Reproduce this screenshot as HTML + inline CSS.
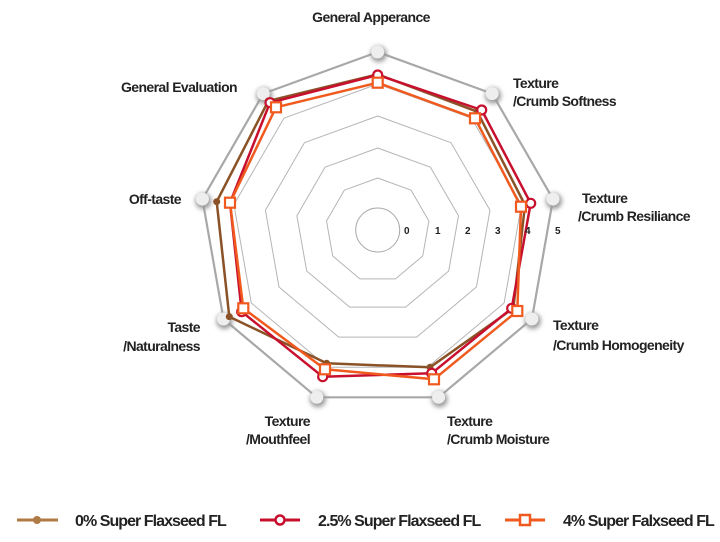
<!DOCTYPE html>
<html><head><meta charset="utf-8"><style>
body{margin:0;background:#fff;width:720px;height:542px;overflow:hidden}
svg{display:block}
text{font-family:"Liberation Sans",sans-serif;font-weight:bold;fill:#222}
.l{font-size:14px;letter-spacing:-0.6px}
.g{font-size:16px;letter-spacing:-0.95px}
.n{font-size:10px}
</style></head><body>
<svg id="s" width="720" height="542" viewBox="0 0 720 542">
<defs><filter id="sh" x="-1" y="-1" width="3" height="3"><feGaussianBlur stdDeviation="2.5"/></filter></defs>
<g id="rings"></g>
<g id="series"></g>
<text class="n" x="404" y="234">0</text><text class="n" x="435" y="234">1</text><text class="n" x="465" y="234">2</text><text class="n" x="495" y="234">3</text><text class="n" x="525" y="234">4</text><text class="n" x="555" y="234">5</text>
<text class="l" x="371" y="22" text-anchor="middle">General Apperance</text>
<text class="l" x="513" y="88">Texture</text><text class="l" x="513" y="106">/Crumb Softness</text>
<text class="l" x="582" y="203">Texture</text><text class="l" x="578" y="221">/Crumb Resiliance</text>
<text class="l" x="553" y="330">Texture</text><text class="l" x="553" y="350">/Crumb Homogeneity</text>
<text class="l" x="447" y="426">Texture</text><text class="l" x="447" y="444">/Crumb Moisture</text>
<text class="l" x="310" y="426" text-anchor="end">Texture</text><text class="l" x="310" y="444" text-anchor="end">/Mouthfeel</text>
<text class="l" x="200" y="332" text-anchor="end">Taste</text><text class="l" x="200" y="351" text-anchor="end">/Naturalness</text>
<text class="l" x="181" y="204" text-anchor="end">Off-taste</text>
<text class="l" x="237" y="92" text-anchor="end">General Evaluation</text>
<line x1="17" y1="520" x2="58" y2="520" stroke="#b07a45" stroke-width="3"/><circle cx="37" cy="520" r="4" fill="#b07a45"/>
<text class="g" x="75" y="526">0% Super Flaxseed FL</text>
<line x1="260" y1="520" x2="300" y2="520" stroke="#c8102e" stroke-width="3"/><circle cx="280" cy="520" r="4.5" fill="#fff" stroke="#c8102e" stroke-width="2.5"/>
<text class="g" x="318" y="526">2.5% Super Flaxseed FL</text>
<line x1="505" y1="520" x2="545" y2="520" stroke="#f05a1e" stroke-width="3"/><rect x="520" y="515" width="10" height="10" fill="#fff" stroke="#f05a1e" stroke-width="2.5"/>
<text class="g" x="563" y="526">4% Super Falxseed FL</text>
</svg>
<script>
var NS="http://www.w3.org/2000/svg",cx=377.7,cy=230;
function el(t,a,p){var e=document.createElementNS(NS,t);for(var k in a)e.setAttribute(k,a[k]);p.appendChild(e);return e;}
var R=document.getElementById("rings"),S=document.getElementById("series");
el("circle",{cx:cx,cy:cy,r:22,fill:"none",stroke:"#aaa","stroke-width":1},R);
[52,82,114,146,178].forEach(function(r,i){var pts=[];for(var k=0;k<9;k++){var a=(-90+40*k)*Math.PI/180;pts.push((cx+r*Math.cos(a)).toFixed(1)+","+(cy+r*Math.sin(a)).toFixed(1));}
el("polygon",{points:pts.join(" "),fill:"none",stroke:i==4?"#a8a8a8":"#b5b5b5","stroke-width":i==4?2.2:1,"stroke-linejoin":"round"},R);
if(i==4){for(var k=0;k<9;k++){var a=(-90+40*k)*Math.PI/180,x=cx+r*Math.cos(a),y=cy+r*Math.sin(a);el("circle",{cx:x+1,cy:y+2,r:8,fill:"#999",filter:"url(#sh)"},R);el("circle",{cx:x,cy:y,r:6.5,fill:"#eee"},R);}}});
var brown=[[377.7,74.3],[477.3,111.7],[525,205],[513.3,308.3],[430,367.3],[326.7,363.3],[229.3,316.7],[216.7,201.7],[268.3,101]];
var red=[[377.7,75],[481.7,110],[530.7,203.3],[511.7,308.3],[431.7,373.3],[322.7,376.7],[241.7,311.7],[230,202.7],[270,102.7]];
var org=[[377.7,82.7],[475,118.3],[521,206.7],[517.3,311],[434,379.3],[325,369.3],[243.3,308.3],[230,202.7],[276,107.3]];
function poly(p,c){el("polygon",{points:p.map(function(q){return q.join(",")}).join(" "),fill:"none",stroke:c,"stroke-width":2.5,"stroke-linejoin":"round"},S);}
poly(brown,"#8a5226");poly(red,"#c8102e");poly(org,"#f05a1e");
brown.forEach(function(q){el("circle",{cx:q[0],cy:q[1],r:3.5,fill:"#8a5226"},S);});
red.forEach(function(q){el("circle",{cx:q[0],cy:q[1],r:4.5,fill:"#fff",stroke:"#c8102e","stroke-width":2.2},S);});
org.forEach(function(q){el("rect",{x:q[0]-5,y:q[1]-5,width:10,height:10,fill:"#fff",stroke:"#f05a1e","stroke-width":2.2},S);});
</script>
</body></html>
